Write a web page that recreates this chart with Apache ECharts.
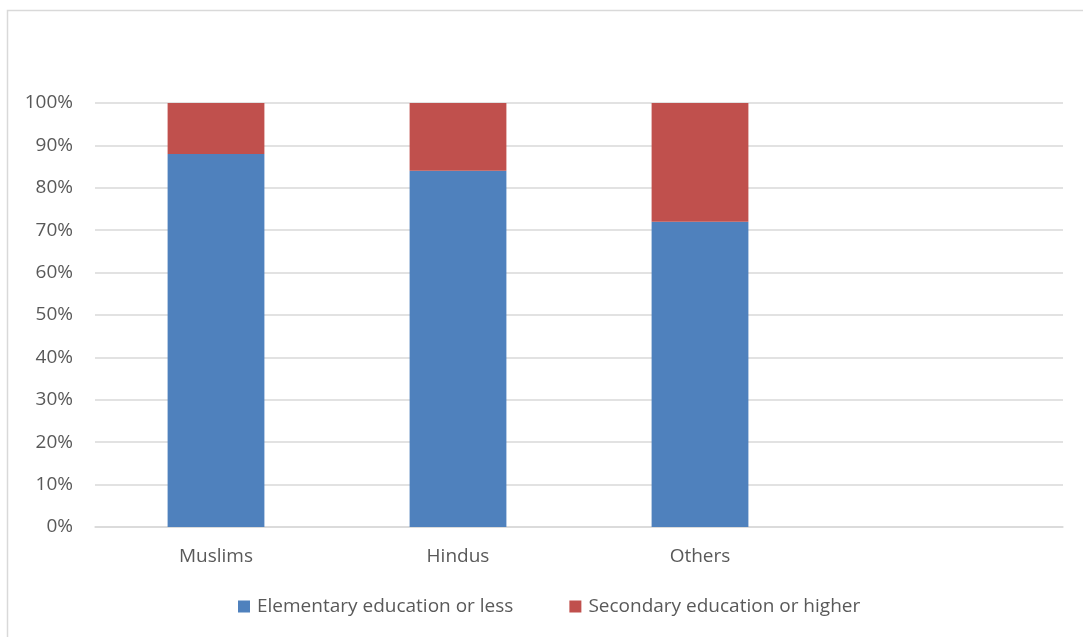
<!DOCTYPE html>
<html>
<head>
<meta charset="utf-8">
<script src="https://cdn.jsdelivr.net/npm/echarts@6/dist/echarts.min.js"></script>
<style>
html,body{margin:0;padding:0;background:#fff;}
#c{width:1083px;height:637px;}
</style>
</head>
<body>
<div id="c"></div>
<script>
const categories = ['Muslims', 'Hindus', 'Others', ''];
const elementary = [88, 84, 72, null];
const secondary = [12, 16, 28, null];
const seriesNames = ['Elementary education or less', 'Secondary education or higher'];
const yTicks = [0, 10, 20, 30, 40, 50, 60, 70, 80, 90, 100];

const font = 'Open Sans';
const chart = echarts.init(document.getElementById('c'), null, {renderer: 'canvas'});
chart.setOption({
  animation: false,
  backgroundColor: '#fff',
  graphic: [{
    type: 'rect',
    shape: {x: 7.5, y: 10.5, width: 1090, height: 640},
    style: {fill: 'none', stroke: '#d9d9d9', lineWidth: 1.5},
    silent: true
  }],
  grid: {left: 95, right: 20, top: 103, bottom: 110, containLabel: false},
  legend: {
    left: 233, top: 592,
    itemWidth: 12, itemHeight: 12, itemGap: 56,
    icon: 'rect',
    textStyle: {fontFamily: font, fontSize: 19, color: '#595959', padding: [0, 0, 0, 2]},
    data: seriesNames
  },
  xAxis: {
    type: 'category',
    data: categories,
    axisLine: {show: true, lineStyle: {color: '#d9d9d9', width: 1.5}},
    axisTick: {show: false},
    axisLabel: {fontFamily: font, fontSize: 19, color: '#595959', margin: 20}
  },
  yAxis: {
    type: 'value',
    min: yTicks[0], max: yTicks[yTicks.length - 1], interval: 10,
    axisLine: {show: false},
    axisTick: {show: false},
    splitLine: {lineStyle: {color: '#d9d9d9', width: 1.5}},
    axisLabel: {fontFamily: font, fontSize: 19, color: '#595959', margin: 22, formatter: v => v + '%'}
  },
  series: [
    {name: seriesNames[0], type: 'bar', stack: 'a', data: elementary, barWidth: '40%', itemStyle: {color: '#4f81bd'}},
    {name: seriesNames[1], type: 'bar', stack: 'a', data: secondary, barWidth: '40%', itemStyle: {color: '#c0504d'}}
  ]
});
</script>
</body>
</html>
